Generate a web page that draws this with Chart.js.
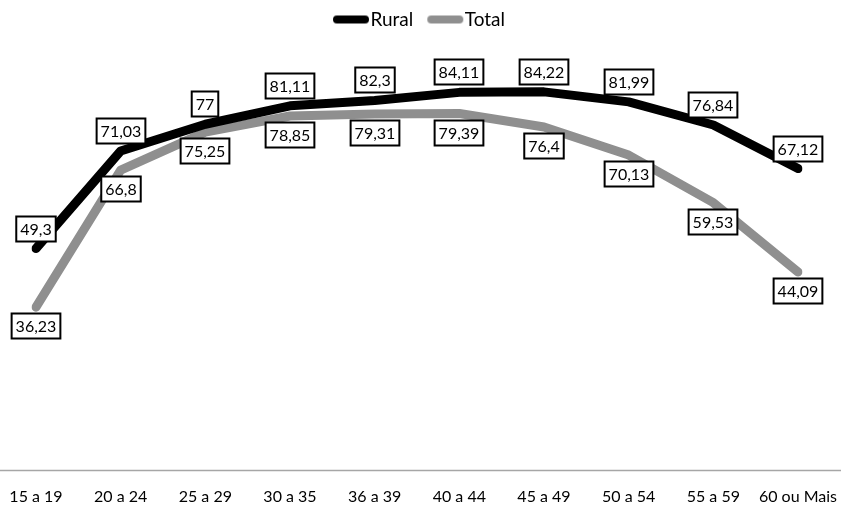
<!DOCTYPE html>
<html>
<head>
<meta charset="utf-8">
<script src="https://cdn.jsdelivr.net/npm/chart.js@4/dist/chart.umd.min.js"></script>
<style>
  html, body { margin: 0; padding: 0; background: #fff; }
  #wrap { width: 841px; height: 506px; }
</style>
</head>
<body>
<div id="wrap"><canvas id="myChart"></canvas></div>
<script>
const faixas = ['15 a 19', '20 a 24', '25 a 29', '30 a 35', '36 a 39', '40 a 44', '45 a 49', '50 a 54', '55 a 59', '60 ou Mais'];
const rural = [49.3, 71.03, 77, 81.11, 82.3, 84.11, 84.22, 81.99, 76.84, 67.12];
const total = [36.23, 66.8, 75.25, 78.85, 79.31, 79.39, 76.4, 70.13, 59.53, 44.09];

const FONT = 'Lato, "Open Sans", sans-serif';

// legend icon: short thick line with round caps
function legendIcon(color) {
  var c = document.createElement('canvas');
  c.width = 54; c.height = 10;
  var g = c.getContext('2d');
  g.strokeStyle = color;
  g.lineWidth = 8;
  g.lineCap = 'round';
  g.beginPath();
  g.moveTo(19, 5);
  g.lineTo(47, 5);
  g.stroke();
  return c;
}

// boxed value labels, rural above the line and total below
const boxLabels = {
  id: 'boxLabels',
  afterDatasetsDraw(chart) {
    var ctx = chart.ctx;
    ctx.save();
    ctx.font = '16px ' + FONT;
    ctx.textAlign = 'center';
    ctx.textBaseline = 'middle';
    chart.data.datasets.forEach(function (ds, i) {
      var meta = chart.getDatasetMeta(i);
      var dy = i === 0 ? -20 : 19;
      meta.data.forEach(function (pt, j) {
        var txt = String(ds.data[j]).replace('.', ',');
        var w = ctx.measureText(txt).width + 8;
        var h = 25;
        var cx = Math.round(pt.x), cy = Math.round(pt.y + dy);
        ctx.fillStyle = '#fff';
        ctx.fillRect(cx - w / 2, cy - h / 2, w, h);
        ctx.lineWidth = 2;
        ctx.strokeStyle = '#000';
        ctx.strokeRect(cx - w / 2, cy - h / 2, w, h);
        ctx.fillStyle = '#000';
        ctx.fillText(txt, cx, cy + 1);
      });
    });
    ctx.restore();
  }
};

// category axis line across the full width
const baseLine = {
  id: 'baseLine',
  beforeDatasetsDraw(chart) {
    var y = Math.round(chart.scales.y.getPixelForValue(0)) + 0.5;
    var ctx = chart.ctx;
    ctx.save();
    ctx.strokeStyle = '#a6a6a6';
    ctx.lineWidth = 1.5;
    ctx.beginPath();
    ctx.moveTo(0, y);
    ctx.lineTo(chart.width, y);
    ctx.stroke();
    ctx.restore();
  }
};

var ctx = document.getElementById('myChart').getContext('2d');
var myChart = new Chart(ctx, {
  type: 'line',
  data: {
    labels: faixas,
    datasets: [{
      label: 'Rural',
      data: rural,
      borderColor: '#000000',
      backgroundColor: '#000000',
      borderWidth: 9,
      pointStyle: legendIcon('#000000'),
      pointRadius: 0
    }, {
      label: 'Total',
      data: total,
      borderColor: '#8f8f8f',
      backgroundColor: '#8f8f8f',
      borderWidth: 9,
      pointStyle: legendIcon('#8f8f8f'),
      pointRadius: 0
    }]
  },
  options: {
    responsive: true,
    maintainAspectRatio: false,
    animation: false,
    layout: { autoPadding: false, padding: { left: 36, right: 43, top: 0, bottom: -17 } },
    elements: {
      line: { tension: 0, borderCapStyle: 'round', borderJoinStyle: 'round' }
    },
    plugins: {
      legend: {
        position: 'top',
        labels: {
          usePointStyle: true,
          pointStyleWidth: 32,
          boxHeight: 10,
          padding: 10,
          color: '#000',
          font: { family: FONT, size: 19 }
        }
      },
      tooltip: { enabled: false }
    },
    scales: {
      x: {
        offset: false,
        grid: { display: false, drawTicks: false },
        border: { display: false },
        ticks: { color: '#000', padding: 17, maxRotation: 0, autoSkip: false, font: { family: FONT, size: 16 } },
        afterFit(scale) {
          // labels may run into the side margins
          scale.paddingLeft = 0;
          scale.paddingRight = 0;
        }
      },
      y: {
        display: false,
        min: 0,
        max: 96
      }
    }
  },
  plugins: [baseLine, boxLabels]
});
</script>
</body>
</html>
